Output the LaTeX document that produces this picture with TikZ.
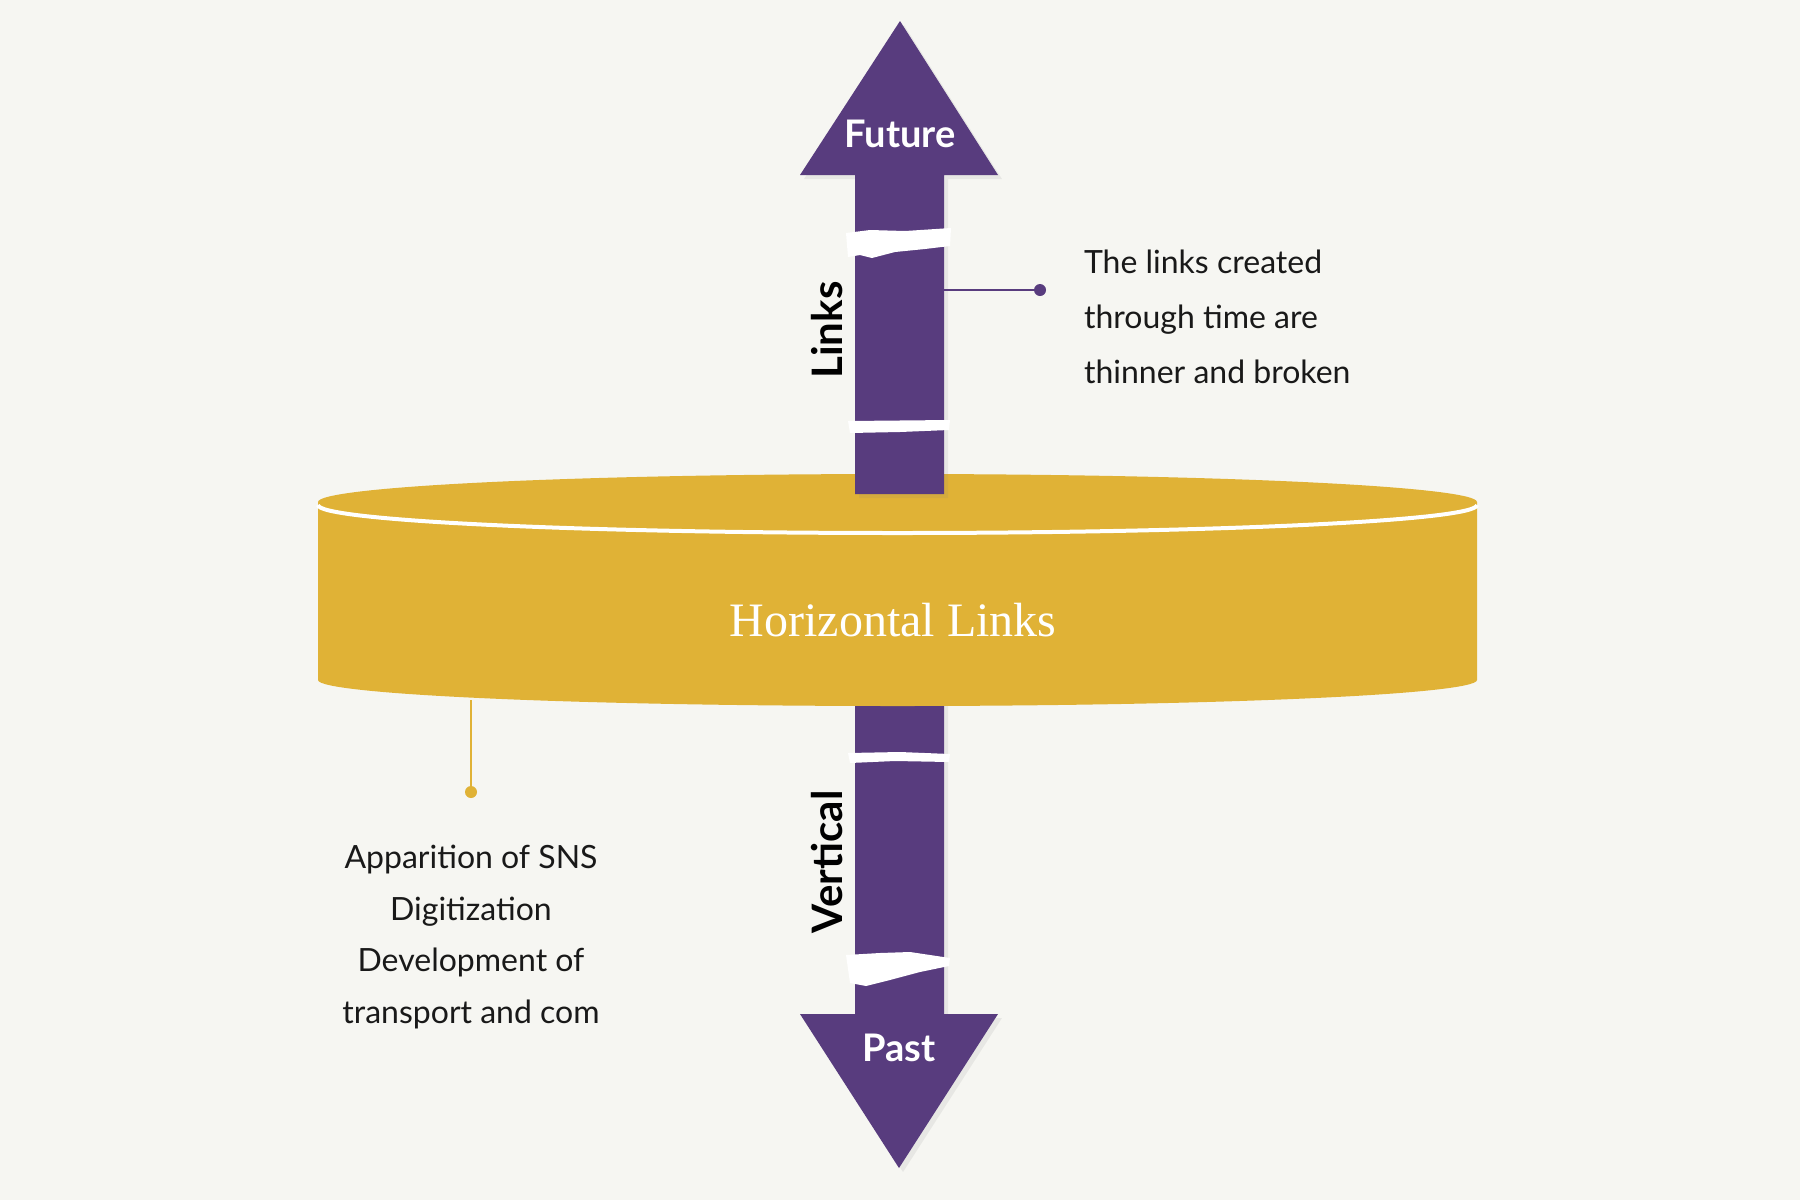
\documentclass[tikz,border=0pt]{standalone}
\usepackage{fontspec}
\setmainfont{Lato}
\newfontfamily\seriffont{Liberation Serif}
\usepackage{xcolor}
\usetikzlibrary{positioning, shadows}
\definecolor{paperbg}{HTML}{F6F6F2}
\definecolor{timepurple}{HTML}{583C7E}
\definecolor{linkgold}{HTML}{E0B236}

\begin{document}
\begin{tikzpicture}[x=0.5pt, y=-0.5pt,
    timearrow/.style={fill=timepurple, draw=none, drop shadow={opacity=0.12, shadow xshift=2pt, shadow yshift=-2pt}},
    brushmark/.style={fill=white, draw=none},
    arrowtext/.style={font=\fontsize{19}{22}\selectfont\bfseries, text=white},
    sidelabel/.style={font=\fontsize{21}{24}\selectfont\bfseries, text=black, rotate=90},
    notetext/.style={font=\fontsize{16}{27.5}\selectfont, text=black!90},
    dotmark/.style={circle, inner sep=0pt, minimum size=6pt},
    calloutline/.style={line width=1.4pt}
]
    % Background
    \fill[paperbg] (0,0) rectangle (1800,1200);

    % Lower arrow - Past
    \fill[timearrow] (855,690) -- (855,1014) -- (800,1014) -- (899,1168) -- (998,1014) -- (944,1014) -- (944,690) -- cycle;

    % Cylinder - horizontal links
    \fill[linkgold] (318,502) -- (318,680) arc[start angle=180, end angle=0, x radius=579.5, y radius=26] -- (1477,502) -- cycle;
    \fill[linkgold] (897.5,502) ellipse[x radius=579.5, y radius=28];
    \draw[white, line width=2pt] (318,505) arc[start angle=180, end angle=0, x radius=579.5, y radius=28];
    \node[font=\fontsize{24}{28}\selectfont\seriffont, text=white] (horiz) at (893,620) {Horizontal Links};

    % Upper arrow - Future
    \fill[timearrow] (855,494) -- (855,175) -- (800,175) -- (900,21) -- (998,175) -- (944,175) -- (944,494) -- cycle;

    % Broken links on the shaft
    \fill[brushmark] (846,233) -- (870,230) -- (905,231) -- (951,228) -- (950,246) -- (925,249) -- (895,252) -- (872,258) -- (860,255) -- (848,257) -- cycle;
    \fill[brushmark] (848,421) -- (950,420) -- (949,430) -- (900,432) -- (850,433) -- cycle;
    \fill[brushmark] (848,753) -- (900,752) -- (950,754) -- (949,762) -- (895,761) -- (850,763) -- cycle;
    \fill[brushmark] (846,955) -- (880,953) -- (910,952) -- (950,958) -- (949,966) -- (920,972) -- (890,980) -- (866,986) -- (850,983) -- cycle;

    % Arrow labels
    \node[arrowtext] (future) at (900,134) {Future};
    \node[arrowtext] (past) at (899,1048) {Past};
    \node[sidelabel] (links) at (827,330) {Links};
    \node[sidelabel] (vertical) at (827,862) {Vertical};

    % Callout - upper arrow
    \coordinate (upshaft) at (944,290);
    \node[dotmark, fill=timepurple] (linkdot) at (1040,290) {};
    \draw[calloutline, timepurple] (upshaft) -- (linkdot);
    \node[notetext, align=left, anchor=west] (linknote) at (1077,317) {The links created\\through time are\\thinner and broken};

    % Callout - cylinder
    \coordinate (cylbase) at (471,700);
    \node[dotmark, fill=linkgold] (golddot) at (471,792) {};
    \draw[calloutline, linkgold] (cylbase) -- (golddot);
    \node[notetext, font=\fontsize{16}{25.7}\selectfont, align=center] (horiznote) at (471,937) {Apparition of SNS\\Digitization\\Development of\\transport and com};

\end{tikzpicture}
\end{document}
